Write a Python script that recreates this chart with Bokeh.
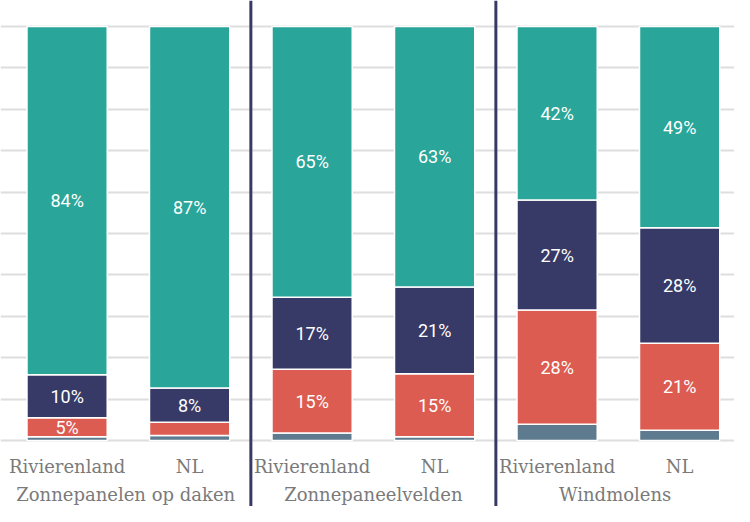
from bokeh.plotting import figure
from bokeh.models import ColumnDataSource, Range1d, Span, FixedTicker
from bokeh.core.properties import value
from bokeh.embed import file_html
from bokeh.resources import INLINE

# ---- data -------------------------------------------------------------
groups = ["Zonnepanelen op daken", "Zonnepaneelvelden", "Windmolens"]
regions = ["Rivierenland", "NL"]
series = ["Weet niet", "Tegen", "Neutraal", "Voor"]          # bottom -> top
voor = [84.1, 87.3, 65.4, 62.9, 41.9, 48.6]
neutraal = [10.4, 8.3, 17.4, 21.0, 26.6, 27.9]
tegen = [4.6, 3.2, 15.4, 15.2, 27.6, 21.0]
weet_niet = [0.9, 1.2, 1.8, 0.9, 3.9, 2.5]
colors = ["#5e7a8e", "#dd5c51", "#373a66", "#2aa59a"]
y_ticks = list(range(0, 101, 10))

# ---- build -------------------------------------------------------------
n = len(groups) * len(regions)
xs = list(range(n))
bar_labels = [r for g in groups for r in regions]

src = ColumnDataSource(dict(x=xs, **{"Weet niet": weet_niet, "Tegen": tegen,
                                     "Neutraal": neutraal, "Voor": voor}))

p = figure(width=734, height=506, output_backend="svg", toolbar_location=None,
           x_range=Range1d(-0.5437, 5.448), y_range=Range1d(-15.94, 106.28),
           x_axis_location=None, y_axis_location=None,
           min_border=0, outline_line_color=None)
p.xgrid.visible = False
p.ygrid.ticker = FixedTicker(ticks=y_ticks)
p.ygrid.grid_line_color = "#dedede"
p.ygrid.grid_line_width = 2

p.vbar_stack(series, x="x", width=0.655, source=src,
             fill_color=colors, line_color="white", line_width=1.5)

# segment labels
lx, ly, lt = [], [], []
stack = [weet_niet, tegen, neutraal, voor]
for i in range(n):
    base = 0.0
    for vals in stack:
        v = vals[i]
        if round(v) >= 5 and vals is not weet_niet:
            lx.append(xs[i])
            ly.append(base + v / 2)
            lt.append(f"{round(v)}%")
        base += v
p.text(x=lx, y=ly, text=lt, text_color="white", text_font=value("Roboto"),
       text_font_size="18px", text_align="center", text_baseline="middle")

# category labels
p.text(x=xs, y=[-6.28] * n, text=bar_labels, text_color="#7a7a7a",
       text_font=value("DejaVu Serif"), text_font_size="18px",
       text_align="center", text_baseline="alphabetic")

# group dividers and labels
bounds = [p.x_range.start] + [len(regions) * k - 0.5 for k in range(1, len(groups))] + [p.x_range.end]
for b in bounds[1:-1]:
    p.add_layout(Span(location=b, dimension="height", line_color="#373a66", line_width=3))
gx = [(bounds[k] + bounds[k + 1]) / 2 for k in range(len(groups))]
p.text(x=gx, y=[-13.04] * len(groups), text=groups, text_color="#7a7a7a",
       text_font=value("DejaVu Serif"), text_font_size="18px",
       text_align="center", text_baseline="alphabetic")

open("out.html", "w").write(file_html(p, INLINE))
